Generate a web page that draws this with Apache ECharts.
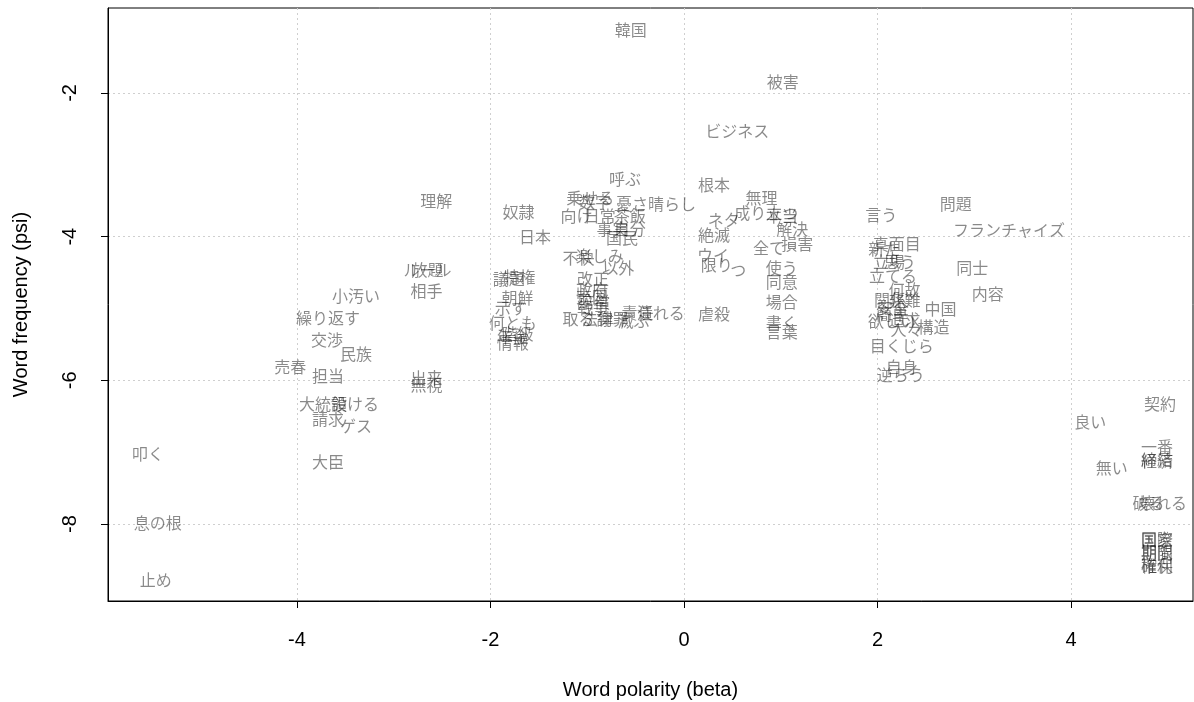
<!DOCTYPE html>
<html>
<head>
<meta charset="utf-8">
<script src="https://cdn.jsdelivr.net/npm/echarts@6/dist/echarts.min.js"></script>
<style>
html,body{margin:0;padding:0;background:#fff;}
#c{width:1194px;height:702px;}
</style>
</head>
<body>
<div id="c"></div>
<script>
const words = ["韓国","被害","ビジネス","呼ぶ","根本","理解","問題","無理","乗せる","数字","憂さ晴らし","成り立つ","奴隷","言う","向け","日常","茶飯","ネタ","本当","解決","フランチャイズ","日本","絶滅","損害","全て","真面目","新た","事実","自分","国民","不快","楽しみ","以外","ウイ","限り","つ","使う","立場","思う","同士","立てる","議題","特権","改正","同意","何故","政府","相手","放題","ルール","小汚い","内容","朝鮮","場合","中国","売国","賠償","戦争","示す","関係","安全","簡単","非難","虐殺","取る","法律","謝罪","責任","潰れる","滅ぶ","繰り返す","構造","何とも","欲しい","追求","書く","人々","交渉","言葉","階級","年金","情報","目くじら","民族","売春","自身","逆らう","担当","出来","無視","大統領","設ける","請求","ゲス","叩く","大臣","息の根","止め","契約","良い","一番","締結","経済","無い","壊れる","破る","国際","国家","期限","期間","確保","権利"];
const beta = [-0.55,1.02,0.55,-0.61,0.31,-2.56,2.81,0.80,-0.97,-0.92,-0.29,0.85,-1.71,2.04,-1.11,-0.87,-0.56,0.41,1.01,1.12,3.36,-1.54,0.31,1.17,0.88,2.20,2.07,-0.74,-0.56,-0.64,-1.09,-0.87,-0.68,0.30,0.34,0.56,1.01,2.12,2.23,2.98,2.16,-1.81,-1.70,-0.94,1.01,2.28,-0.95,-2.66,-2.65,-2.65,-3.39,3.14,-1.72,1.01,2.65,-0.95,-0.93,-0.94,-1.79,2.13,2.16,2.15,2.28,0.31,-1.09,-0.89,-0.74,-0.48,-0.24,-0.52,-3.68,2.58,-1.77,2.15,2.28,1.01,2.30,-3.69,1.01,-1.72,-1.77,-1.77,2.25,-3.39,-4.07,2.25,2.24,-3.68,-2.66,-2.66,-3.73,-3.40,-3.68,-3.39,-5.54,-3.68,-5.44,-5.46,4.92,4.20,4.89,4.89,4.89,4.42,4.95,4.80,4.89,4.89,4.89,4.89,4.89,4.89];
const psi = [-1.12,-1.85,-2.53,-3.20,-3.28,-3.50,-3.55,-3.46,-3.46,-3.51,-3.55,-3.67,-3.66,-3.70,-3.71,-3.71,-3.71,-3.77,-3.71,-3.89,-3.91,-4.00,-3.98,-4.10,-4.16,-4.10,-4.17,-3.89,-3.89,-4.02,-4.30,-4.27,-4.44,-4.26,-4.39,-4.46,-4.44,-4.35,-4.35,-4.44,-4.55,-4.59,-4.56,-4.59,-4.63,-4.74,-4.74,-4.76,-4.46,-4.46,-4.83,-4.80,-4.85,-4.91,-5.01,-4.84,-4.91,-4.99,-4.99,-4.88,-4.99,-5.08,-4.88,-5.08,-5.15,-5.15,-5.15,-5.06,-5.06,-5.17,-5.13,-5.26,-5.20,-5.17,-5.16,-5.20,-5.30,-5.44,-5.33,-5.36,-5.40,-5.48,-5.52,-5.63,-5.81,-5.81,-5.93,-5.94,-5.97,-6.07,-6.33,-6.33,-6.54,-6.64,-7.03,-7.14,-7.99,-8.78,-6.33,-6.58,-6.93,-7.11,-7.12,-7.22,-7.71,-7.71,-8.21,-8.22,-8.39,-8.40,-8.58,-8.58];
const xTicks = [-4,-2,0,2,4];
const yTicks = [-8,-6,-4,-2];
const xTitle = "Word polarity (beta)";
const yTitle = "Word frequency (psi)";

const data = words.map((w,i)=>[beta[i],psi[i],w]);
const chart = echarts.init(document.getElementById('c'));
const axisFont = {fontFamily:'"Liberation Sans", Arial, sans-serif', fontSize:20, color:'#000'};
chart.setOption({
  animation:false,
  grid:{left:108,right:1,top:8,bottom:101,outerBoundsMode:'none',containLabel:false,show:true,borderColor:'#000',borderWidth:1,backgroundColor:'transparent'},
  xAxis:{type:'value',min:-5.953,max:5.261,
    axisLine:{show:true,onZero:false,lineStyle:{color:'#000',width:1}},
    axisTick:{show:true,length:7,lineStyle:{color:'#000'},customValues:xTicks},
    axisLabel:Object.assign({margin:29,customValues:xTicks,formatter:v=>String(v)},axisFont),
    splitLine:{show:true,lineStyle:{color:'#cfcfcf',type:[2,3],width:1}},
    name:xTitle,nameLocation:'middle',nameGap:79,nameTextStyle:axisFont},
  yAxis:{type:'value',min:-9.072,max:-0.817,
    axisLine:{show:true,onZero:false,lineStyle:{color:'#000',width:1}},
    axisTick:{show:true,length:7,lineStyle:{color:'#000'},customValues:yTicks},
    axisLabel:Object.assign({margin:28,rotate:90,customValues:yTicks,formatter:v=>String(v)},axisFont),
    splitLine:{show:true,lineStyle:{color:'#cfcfcf',type:[2,3],width:1}},
    name:yTitle,nameLocation:'middle',nameGap:77,nameTextStyle:axisFont},
  series:[{type:'scatter',data:data,symbolSize:1,itemStyle:{color:'rgba(0,0,0,0)'},
    label:{show:true,position:'inside',formatter:p=>p.value[2],color:'rgba(0,0,0,0.58)',
      fontSize:16,fontFamily:'"Noto Sans CJK JP", sans-serif'},
    emphasis:{disabled:true}}]
});
</script>
</body>
</html>
